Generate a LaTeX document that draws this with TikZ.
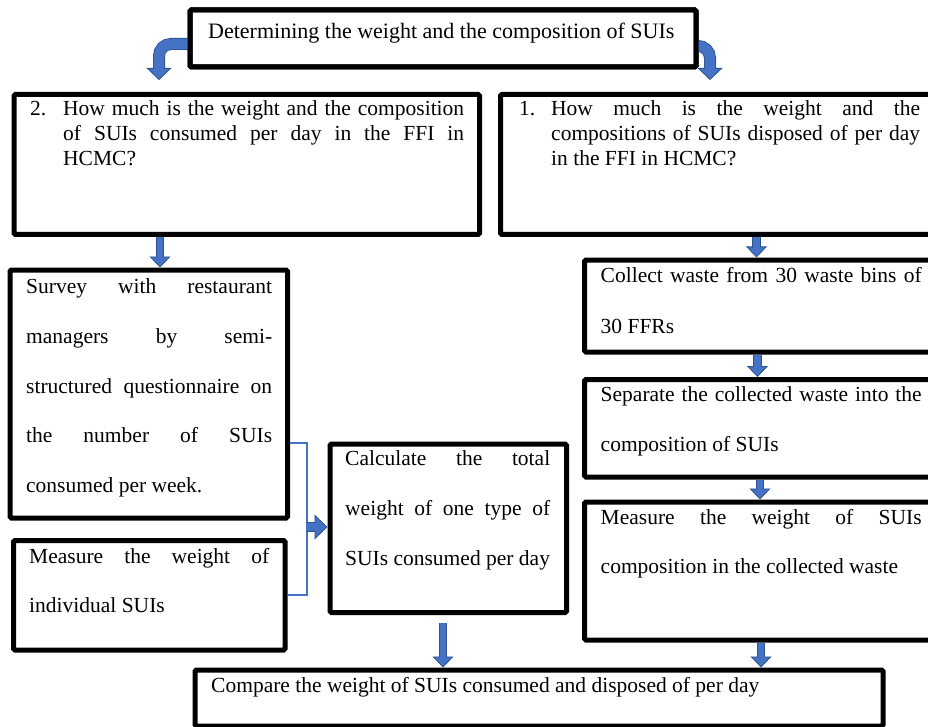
\documentclass[tikz,border=0pt]{standalone}
\usepackage{fontspec}
\setmainfont{Liberation Serif}
\usetikzlibrary{arrows.meta,calc}
\definecolor{arrowblue}{HTML}{4472C4}
\definecolor{arrowdark}{HTML}{2F528F}
\begin{document}
\begin{tikzpicture}[x=1pt,y=-1pt,
  box/.style={draw=black, line width=5pt, rounded corners=1.5pt, inner sep=0pt, fill=white},
  txt/.style={anchor=base west, inner sep=0pt, font=\fontsize{21.5}{25}\selectfont},
  barrow/.style={preaction={draw=arrowdark, line width=8.5pt, shorten >=0pt,
      -{Triangle[width=21pt,length=11pt,fill=arrowblue,line width=0.8pt]}},
    draw=arrowblue, line width=6.8pt, shorten >=6pt},
  carrow/.style={rounded corners=12pt, preaction={draw=arrowdark, line width=12pt, shorten >=0pt,
      -{Triangle[width=25pt,length=12pt,fill=arrowblue,line width=0.8pt]}},
    draw=arrowblue, line width=10.3pt, shorten >=7pt},
  rarrow/.style={preaction={draw=arrowdark, line width=10pt, shorten >=0pt,
      -{Triangle[width=25pt,length=13pt,fill=arrowblue,line width=0.8pt]}},
    draw=arrowblue, line width=8.3pt, shorten >=7pt},
  bracket/.style={draw=arrowblue, line width=2.5pt}]
\useasboundingbox (0,0) rectangle (928,727);
\clip (0,0) rectangle (928,727);

% boxes
\node[box, minimum width=506pt, minimum height=57pt] (top) at (443,38.5) {};
\node[box, minimum width=465.5pt, minimum height=140pt] (q2) at (246.75,164.5) {};
\node[box, minimum width=449.5pt, minimum height=140pt] (q1) at (725.25,164.5) {};
\node[box, minimum width=277.5pt, minimum height=248pt] (survey) at (148.75,394) {};
\node[box, minimum width=271.5pt, minimum height=109.5pt] (indiv) at (149.25,595.25) {};
\node[box, minimum width=236.5pt, minimum height=168.5pt] (calc) at (448.25,528.25) {};
\node[box, minimum width=365.5pt, minimum height=92pt] (collect) at (767.25,306) {};
\node[box, minimum width=365.5pt, minimum height=97.5pt] (separate) at (767.25,428.25) {};
\node[box, minimum width=365.5pt, minimum height=138pt] (measure) at (767.25,571) {};
\node[box, minimum width=688pt, minimum height=56pt] (compare) at (539,698) {};

% texts
\node[txt, font=\fontsize{22}{25}\selectfont] (t0) at (208,39) {Determining the weight and the composition of SUIs};

\node[txt] (q2n) at (30,116) {2.};
\node[txt] (q2a) at (63,116) {\makebox[401pt][s]{How much is the weight and the composition}};
\node[txt] (q2b) at (63,141) {\makebox[401pt][s]{of SUIs consumed per day in the FFI in}};
\node[txt] (q2c) at (63,166) {HCMC?};

\node[txt] (q1n) at (519,116) {1.};
\node[txt] (q1a) at (551,116) {\makebox[369pt][s]{How much is the weight and the}};
\node[txt] (q1b) at (551,141) {\makebox[369pt][s]{compositions of SUIs disposed of per day}};
\node[txt] (q1c) at (551,166) {in the FFI in HCMC?};

\node[txt] (s1) at (26,293) {\makebox[246pt][s]{Survey with restaurant}};
\node[txt] (s2) at (26,343) {\makebox[246pt][s]{managers by semi-}};
\node[txt] (s3) at (26,393) {\makebox[246pt][s]{structured questionnaire on}};
\node[txt] (s4) at (26,442.5) {\makebox[246pt][s]{the number of SUIs}};
\node[txt] (s5) at (26,492) {consumed per week.};

\node[txt] (i1) at (29,563) {\makebox[240pt][s]{Measure the weight of}};
\node[txt] (i2) at (29,612.5) {individual SUIs};

\node[txt] (c1) at (345,465) {\makebox[205pt][s]{Calculate the total}};
\node[txt] (c2) at (345,515.5) {\makebox[205pt][s]{weight of one type of}};
\node[txt] (c3) at (345,565) {SUIs consumed per day};

\node[txt] (co1) at (600.5,282.5) {\makebox[321pt][s]{Collect waste from 30 waste bins of}};
\node[txt] (co2) at (600.5,333) {30 FFRs};

\node[txt] (se1) at (600.5,401.5) {\makebox[321pt][s]{Separate the collected waste into the}};
\node[txt] (se2) at (600.5,451.5) {composition of SUIs};

\node[txt] (m1) at (600.5,524) {\makebox[321pt][s]{Measure the weight of SUIs}};
\node[txt] (m2) at (600.5,573.5) {composition in the collected waste};

\node[txt] (cp) at (211,692) {Compare the weight of SUIs consumed and disposed of per day};

% coordinates for arrows
\coordinate (yl) at (0,44);
\coordinate (yr) at (0,46);
\coordinate (tipL) at (159,80);
\coordinate (tipR) at (710,80);
\coordinate (x160) at (160,0);
\coordinate (x756) at (756.5,0);
\coordinate (x757) at (757.5,0);
\coordinate (x760) at (760,0);
\coordinate (x443) at (443,0);
\coordinate (x761) at (761,0);
\coordinate (bt) at (307,443);
\coordinate (bb) at (307,595);
\coordinate (bm) at (306,527);

% curved arrows from the top box
\draw[carrow] ($(top.west |- yl)+(4,0)$) -| (tipL);
\draw[carrow] ($(top.east |- yr)+(-4,0)$) -| (tipR);

% straight arrows
\draw[barrow] (q2.south -| x160) -- (survey.north -| x160);
\draw[barrow] (q1.south -| x756) -- (collect.north -| x756);
\draw[barrow] (collect.south -| x757) -- (separate.north -| x757);
\draw[barrow] (separate.south -| x760) -- (measure.north -| x760);
\draw[barrow] ($(calc.south -| x443)+(0,8)$) -- (compare.north -| x443);
\draw[barrow] (measure.south -| x761) -- (compare.north -| x761);

% bracket
\draw[bracket] (survey.east |- bt) -- (bt) -- (bb) -- (indiv.east |- bb);
\draw[rarrow] (bm) -- (calc.west |- bm);

% redraw the top box border over the arrow starts
\draw[line width=5pt, rounded corners=1.5pt] (top.north west) ++(2.5,2.5) rectangle ($(top.south east)+(-2.5,-2.5)$);
\end{tikzpicture}
\end{document}
